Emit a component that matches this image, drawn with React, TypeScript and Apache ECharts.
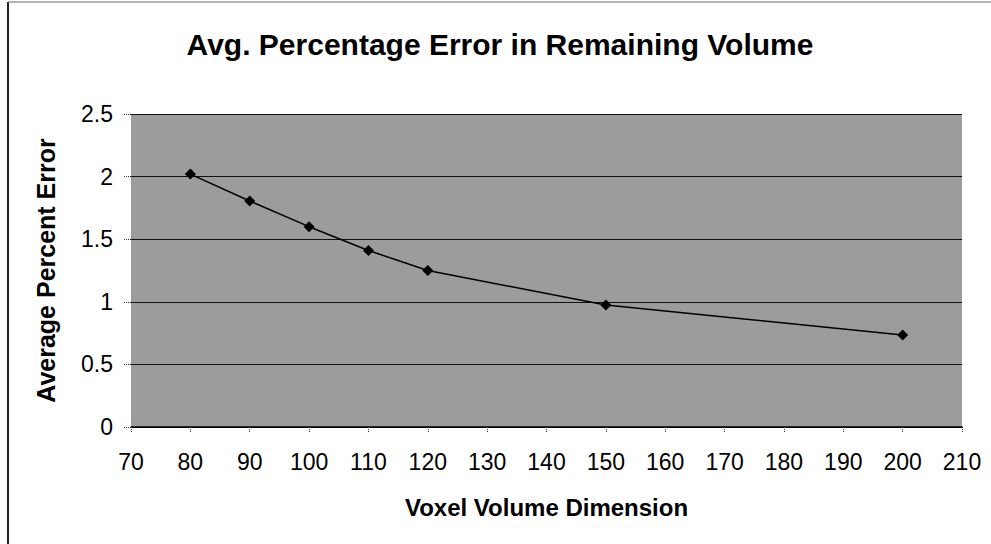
import React, { useEffect, useRef } from "react";
import * as echarts from "echarts";

const xValues = [80, 90, 100, 110, 120, 150, 200];
const errorValues = [2.02, 1.805, 1.6, 1.41, 1.25, 0.975, 0.735];
const titleText = "Avg. Percentage Error in Remaining Volume";
const xAxisName = "Voxel Volume Dimension";
const yAxisName = "Average Percent Error";

export default function App() {
  const ref = useRef<HTMLDivElement>(null);
  useEffect(() => {
    if (!ref.current) return;
    const chart = echarts.init(ref.current, null, { renderer: "svg" });
    const font = "Liberation Sans, Arial, sans-serif";
    chart.setOption({
      animation: false,
      backgroundColor: "#ffffff",
      title: {
        text: titleText,
        left: 495,
        top: 24,
        textAlign: "center",
        textStyle: { fontFamily: font, fontSize: 30, fontWeight: "bold", color: "#000" },
      },
      graphic: [
        { type: "line", shape: { x1: 8, y1: 2, x2: 8, y2: 544 }, style: { stroke: "#222", lineWidth: 2 } },
        { type: "line", shape: { x1: 8, y1: 2, x2: 991, y2: 2 }, style: { stroke: "#666", lineWidth: 1 } },
      ],
      grid: { left: 131, right: 29, top: 114, bottom: 117, show: true, backgroundColor: "#9c9c9c", borderWidth: 0 },
      xAxis: {
        type: "value",
        min: 70,
        max: 210,
        interval: 10,
        name: xAxisName,
        nameLocation: "middle",
        nameGap: 68,
        nameTextStyle: { fontFamily: font, fontSize: 24, fontWeight: "bold", color: "#000" },
        axisLine: { show: true, onZero: false, lineStyle: { color: "#000", width: 1.5 } },
        axisTick: { show: true, length: 6, lineStyle: { color: "#333", type: "dotted" } },
        axisLabel: { fontFamily: font, fontSize: 23, color: "#000", margin: 23 },
        splitLine: { show: false },
      },
      yAxis: {
        type: "value",
        min: 0,
        max: 2.5,
        interval: 0.5,
        name: yAxisName,
        nameLocation: "middle",
        nameGap: 73,
        nameTextStyle: { fontFamily: font, fontSize: 25, fontWeight: "bold", color: "#000" },
        axisLine: { show: false },
        axisTick: { show: true, length: 7, lineStyle: { color: "#333", type: "dotted" } },
        axisLabel: { fontFamily: font, fontSize: 23, color: "#000", margin: 18 },
        splitLine: { show: true, lineStyle: { color: "#111", width: 1 } },
      },
      series: [
        {
          type: "line",
          data: xValues.map((x, i) => [x, errorValues[i]]),
          symbol: "diamond",
          symbolSize: 11,
          itemStyle: { color: "#000" },
          lineStyle: { color: "#000", width: 1.5 },
        },
      ],
    });
    return () => chart.dispose();
  }, []);
  return <div ref={ref} style={{ position: "fixed", left: 0, top: 0, width: 991, height: 544 }} />;
}
